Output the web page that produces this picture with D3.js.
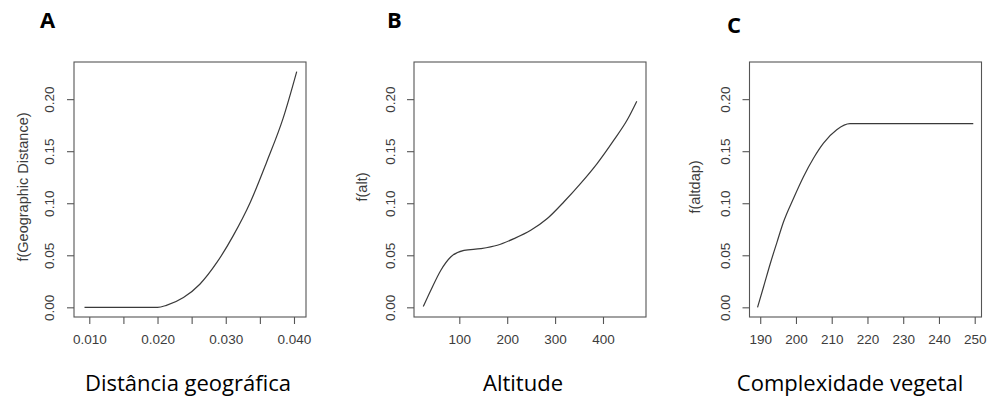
<!DOCTYPE html>
<html><head><meta charset="utf-8">
<script src="https://cdn.jsdelivr.net/npm/d3@7"></script>
<style>
html,body{margin:0;padding:0;background:#fff;}
svg{display:block;}
</style></head>
<body><svg id="c" width="988" height="398"></svg>
<script>
// Panel A: Distância geográfica
const xA = [0.0093, 0.012, 0.015, 0.018, 0.0200, 0.0213, 0.0238, 0.0262, 0.0287, 0.0311, 0.0336, 0.0360, 0.0384, 0.0404];
const yA = [0, 0, 0, 0, 0, 0.0019, 0.0094, 0.0222, 0.0431, 0.0689, 0.1010, 0.1397, 0.1815, 0.2265];
// Panel B: Altitude
const xB = [24.8, 40.3, 61.2, 82.0, 109.8, 144.7, 179.3, 214.2, 249.1, 283.7, 318.6, 353.4, 388.1, 423.0, 450.7, 470.4];
const yB = [0.0007, 0.0161, 0.0354, 0.0483, 0.0547, 0.0564, 0.0596, 0.0660, 0.0740, 0.0853, 0.1014, 0.1191, 0.1384, 0.1609, 0.1802, 0.1979];
// Panel C: Complexidade vegetal
const xC = [189.25, 190.9, 192.8, 194.7, 196.5, 199.3, 202.1, 204.9, 207.7, 211.4, 215.1, 220, 230, 240, 249.6];
const yC = [0, 0.0193, 0.0419, 0.0627, 0.0820, 0.1046, 0.1255, 0.1432, 0.1577, 0.1706, 0.1764, 0.1764, 0.1764, 0.1764, 0.1764];

const yTicks = [0, 0.05, 0.10, 0.15, 0.20];
const xTicksA = [0.010, 0.015, 0.020, 0.025, 0.030, 0.035, 0.040];
const xLabelsA = ["0.010", "", "0.020", "", "0.030", "", "0.040"];
const xTicksB = [100, 200, 300, 400];
const xTicksC = [190, 200, 210, 220, 230, 240, 250];

const panels = [
  {letter:"A", lx:40, ly:28, xs:xA, ys:yA, dom:[0.00776,0.04176], rng:[74,306], ticks:xTicksA, labels:xLabelsA,
   ytitle:"f(Geographic Distance)", ytx:23, ylx:49, title:"Distância geográfica", tx:188},
  {letter:"B", lx:387, ly:28, xs:xB, ys:yB, dom:[5.4,489.8], rng:[414,646], ticks:xTicksB, labels:xTicksB.map(String),
   ytitle:"f(alt)", ytx:362, ylx:390, title:"Altitude", tx:523},
  {letter:"C", lx:727, ly:33, xs:xC, ys:yC, dom:[187.0,251.9], rng:[749.5,981.5], ticks:xTicksC, labels:xTicksC.map(String),
   ytitle:"f(altdap)", ytx:695, ylx:725, title:"Complexidade vegetal", tx:850}
];

const svg = d3.select("#c");
const y = d3.scaleLinear().domain([-0.0093, 0.2357]).range([317, 62]);
const tc = "#3c3c3c";
const fs = "13.5px";

panels.forEach(p => {
  const x = d3.scaleLinear().domain(p.dom).range(p.rng);
  const g = svg.append("g");
  g.append("rect").attr("x", p.rng[0]).attr("y", 62).attr("width", p.rng[1]-p.rng[0]).attr("height", 317-62)
    .attr("fill", "none").attr("stroke", "#555").attr("stroke-width", 1.1);
  const xa = g.append("g").attr("transform", "translate(0,317)")
    .call(d3.axisBottom(x).tickValues(p.ticks).tickSize(7).tickPadding(10)
      .tickFormat((d,i) => p.labels[i]));
  xa.select(".domain").remove();
  xa.selectAll("line").attr("stroke", "#555").attr("stroke-width", 1.1);
  xa.selectAll("text").attr("fill", tc).style("font-family", "'Liberation Sans', Arial, sans-serif").style("font-size", fs);
  const ya = g.append("g").attr("transform", `translate(${p.rng[0]},0)`)
    .call(d3.axisLeft(y).tickValues(yTicks).tickSize(7).tickFormat(d3.format(".2f")));
  ya.select(".domain").remove();
  ya.selectAll("line").attr("stroke", "#555").attr("stroke-width", 1.1);
  ya.selectAll("text").remove();
  ya.selectAll(".tick").append("text")
    .attr("transform", `translate(${p.ylx - p.rng[0]},0) rotate(-90)`)
    .attr("text-anchor", "middle").attr("dy", "0.35em")
    .attr("fill", tc).style("font-family", "'Liberation Sans', Arial, sans-serif").style("font-size", fs)
    .text(d => d3.format(".2f")(d));
  g.append("text").attr("transform", `translate(${p.ytx},187) rotate(-90)`)
    .attr("text-anchor", "middle").attr("dy", "0.35em")
    .attr("fill", tc).style("font-family", "'Liberation Sans', Arial, sans-serif").style("font-size", "14.5px")
    .text(p.ytitle);
  const pts = p.xs.map((v,i) => [v, p.ys[i]]);
  g.append("path").datum(pts)
    .attr("d", d3.line().x(d => x(d[0])).y(d => y(d[1])).curve(d3.curveMonotoneX))
    .attr("fill", "none").attr("stroke", "#3a3a3a").attr("stroke-width", 1.2);
  g.append("text").attr("x", p.tx).attr("y", 391).attr("text-anchor", "middle")
    .attr("fill", "#000").style("font-family", "'Open Sans', 'Noto Sans', sans-serif").style("font-size", "22px")
    .text(p.title);
  g.append("text").attr("x", p.lx).attr("y", p.ly)
    .attr("fill", "#000").style("font-family", "'Open Sans', 'Noto Sans', sans-serif").style("font-size", "22px").style("font-weight", "bold")
    .text(p.letter);
});
</script>
</body></html>
